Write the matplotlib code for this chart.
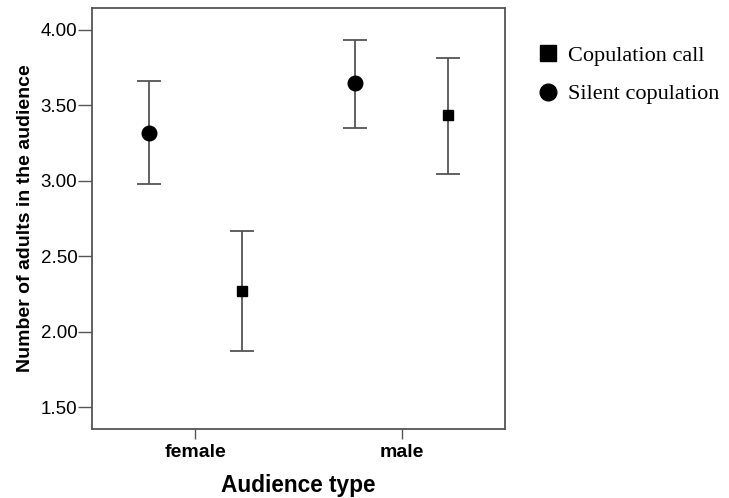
import matplotlib
matplotlib.use("Agg")
import matplotlib.pyplot as plt
import numpy as np
from matplotlib.lines import Line2D

categories = ["female", "male"]
silent_mean = [3.316, 3.647]
silent_low = [2.978, 3.353]
silent_high = [3.658, 3.934]
call_mean = [2.267, 3.433]
call_low = [1.874, 3.048]
call_high = [2.664, 3.812]
yticks = [1.50, 2.00, 2.50, 3.00, 3.50, 4.00]

plt.rcParams['font.family'] = ['Liberation Sans', 'DejaVu Sans']

fig = plt.figure(figsize=(7.29, 4.98), dpi=100)
ax = fig.add_axes([92/729, 1 - 429/498, 413/729, 421/498])

x = np.arange(len(categories))
dodge = 0.225
ecol = "#555555"

def draw(xpos, mean, low, high, marker, ms):
    mean = np.array(mean); low = np.array(low); high = np.array(high)
    ax.errorbar(xpos, mean, yerr=[mean - low, high - mean], fmt='none',
                ecolor=ecol, elinewidth=1.3, capsize=8.5, capthick=1.3)
    ax.plot(xpos, mean, linestyle='none', marker=marker, color='black',
            markersize=ms, zorder=3)

draw(x - dodge, silent_mean, silent_low, silent_high, 'o', 10.5)
draw(x + dodge, call_mean, call_low, call_high, 's', 7.5)

ax.set_xlim(-0.5, 1.5)
ax.set_ylim(1.355, 4.145)
ax.set_xticks(x)
ax.set_xticklabels(categories, fontsize=14, fontweight='bold')
ax.set_yticks(yticks)
ax.set_yticklabels([f"{v:.2f}" for v in yticks], fontsize=13.5)
ax.tick_params(axis='y', direction='out', length=10, width=1, color='#555555', pad=0.5)
ax.tick_params(axis='x', direction='out', length=7.5, width=1, color='#555555', pad=3.5)
for s in ax.spines.values():
    s.set_color('#555555')
    s.set_linewidth(1.3)

ax.set_ylabel("Number of adults in the audience", fontsize=14, fontweight='bold', labelpad=5)
ax.set_xlabel("Audience type", fontsize=16.3, fontweight='bold', labelpad=9)

handles = [Line2D([], [], linestyle='none', marker='s', color='black', markersize=11),
           Line2D([], [], linestyle='none', marker='o', color='black', markersize=12)]
leg = fig.legend(handles, ["Copulation call", "Silent copulation"],
                 loc='upper left', bbox_to_anchor=(520/729, 1 - 30/498),
                 frameon=False, prop={'family': 'Liberation Serif', 'size': 16},
                 handletextpad=0.35, labelspacing=0.8, handlelength=1.1,
                 borderpad=0.2)

fig.savefig("out.png", dpi=100)
